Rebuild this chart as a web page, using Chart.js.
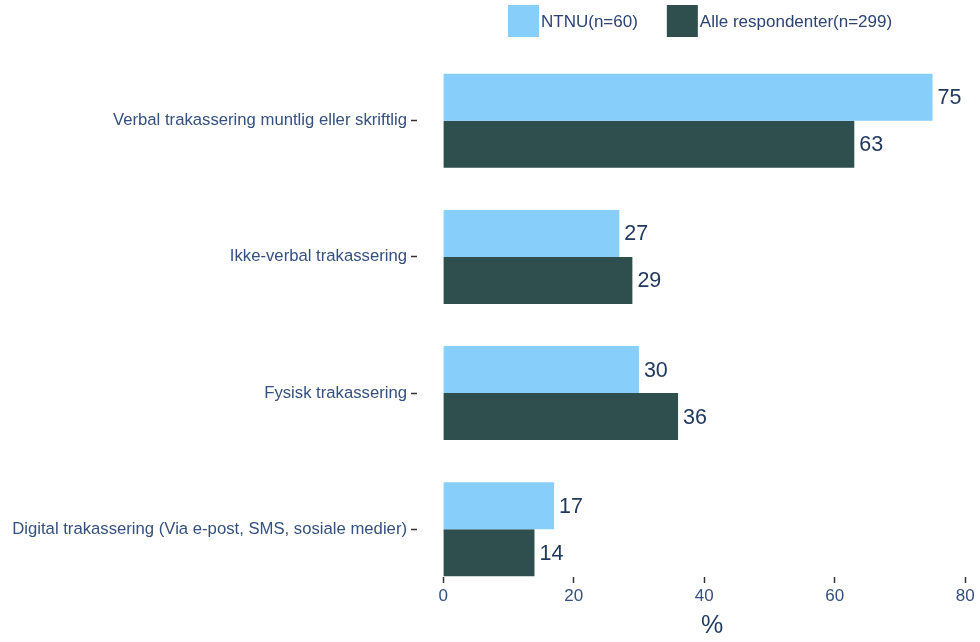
<!DOCTYPE html>
<html>
<head>
<meta charset="utf-8">
<script src="https://cdn.jsdelivr.net/npm/chart.js@4/dist/chart.umd.min.js"></script>
<style>
  html, body { margin: 0; padding: 0; background: #ffffff; overflow: hidden; }
  #wrap { width: 1010px; height: 642px; }
</style>
</head>
<body>
<div id="wrap"><canvas id="chart" width="1010" height="642"></canvas></div>
<script>
// Share of respondents (%) reporting each kind of harassment
const categories = [
  'Verbal trakassering muntlig eller skriftlig',
  'Ikke-verbal trakassering',
  'Fysisk trakassering',
  'Digital trakassering (Via e-post, SMS, sosiale medier)'
];
const seriesNames = ['NTNU(n=60)', 'Alle respondenter(n=299)'];
const ntnuValues = [75, 27, 30, 17];
const allValues = [63, 29, 36, 14];
const xTickValues = [0, 20, 40, 60, 80];

const FONT = '"Liberation Sans", Arial, sans-serif';
const LABEL_COLOR = '#34507e';
const VALUE_COLOR = '#22395f';
const COLORS = ['#87cefa', '#2f4f4f'];

// categories sit at positions 1..n on a numeric index axis
const positions = categories.map((_, i) => i + 1);
const toPoints = vals => vals.map((v, i) => ({ x: v, y: positions[i] }));

// value text at the end of every bar
const valueLabels = {
  id: 'valueLabels',
  afterDatasetsDraw(chart) {
    const ctx = chart.ctx;
    ctx.save();
    ctx.font = '21.5px ' + FONT;
    ctx.fillStyle = VALUE_COLOR;
    ctx.textAlign = 'left';
    ctx.textBaseline = 'middle';
    chart.data.datasets.forEach((ds, di) => {
      chart.getDatasetMeta(di).data.forEach((bar, i) => {
        ctx.fillText(String(ds.data[i].x), bar.x + 5, bar.y + 1);
      });
    });
    ctx.restore();
  }
};

// legend row above the plot
const topLegend = {
  id: 'topLegend',
  afterDraw(chart) {
    const ctx = chart.ctx;
    ctx.save();
    ctx.font = '17px ' + FONT;
    ctx.textBaseline = 'middle';
    ctx.textAlign = 'left';
    let x = 508;
    chart.data.datasets.forEach(ds => {
      ctx.fillStyle = ds.backgroundColor;
      ctx.fillRect(x, 5, 31, 32);
      ctx.fillStyle = '#2c4373';
      ctx.fillText(ds.label, x + 33, 22);
      x += 33 + ctx.measureText(ds.label).width + 29;
    });
    ctx.restore();
  }
};

new Chart(document.getElementById('chart'), {
  type: 'bar',
  data: {
    datasets: [
      { label: seriesNames[0], data: toPoints(ntnuValues), backgroundColor: COLORS[0] },
      { label: seriesNames[1], data: toPoints(allValues), backgroundColor: COLORS[1] }
    ]
  },
  options: {
    indexAxis: 'y',
    responsive: false,
    animation: false,
    devicePixelRatio: 1,
    categoryPercentage: 0.69,
    barPercentage: 1.0,
    layout: { padding: { top: 73, right: 3, bottom: 0, left: 0 } },
    plugins: { legend: { display: false }, tooltip: { enabled: false } },
    scales: {
      y: {
        type: 'linear',
        reverse: true,
        offset: false,
        min: 0.65,
        max: categories.length + 0.35,
        afterBuildTicks(scale) { scale.ticks = positions.map(v => ({ value: v })); },
        afterFit(scale) { scale.width = 417; },
        border: { display: false },
        grid: { offset: false, drawOnChartArea: false, drawTicks: true, tickLength: 6, tickColor: '#333333', tickWidth: 1.5 },
        ticks: {
          padding: 4,
          color: LABEL_COLOR,
          font: { family: FONT, size: 16.7 },
          callback: v => categories[v - 1]
        }
      },
      x: {
        type: 'linear',
        offset: false,
        min: -4,
        max: 86.4,
        afterBuildTicks(scale) { scale.ticks = xTickValues.map(v => ({ value: v })); },
        afterFit(scale) { scale.height = 65; },
        border: { display: false },
        grid: { offset: false, drawOnChartArea: false, drawTicks: true, tickLength: 6, tickColor: '#333333', tickWidth: 1.5 },
        ticks: {
          padding: 3,
          maxRotation: 0,
          color: LABEL_COLOR,
          font: { family: FONT, size: 17 }
        },
        title: {
          display: true,
          text: '%',
          color: '#1f3a5f',
          font: { family: FONT, size: 25 },
          padding: { top: 0, bottom: 1 }
        }
      }
    }
  },
  plugins: [valueLabels, topLegend]
});
</script>
</body>
</html>
